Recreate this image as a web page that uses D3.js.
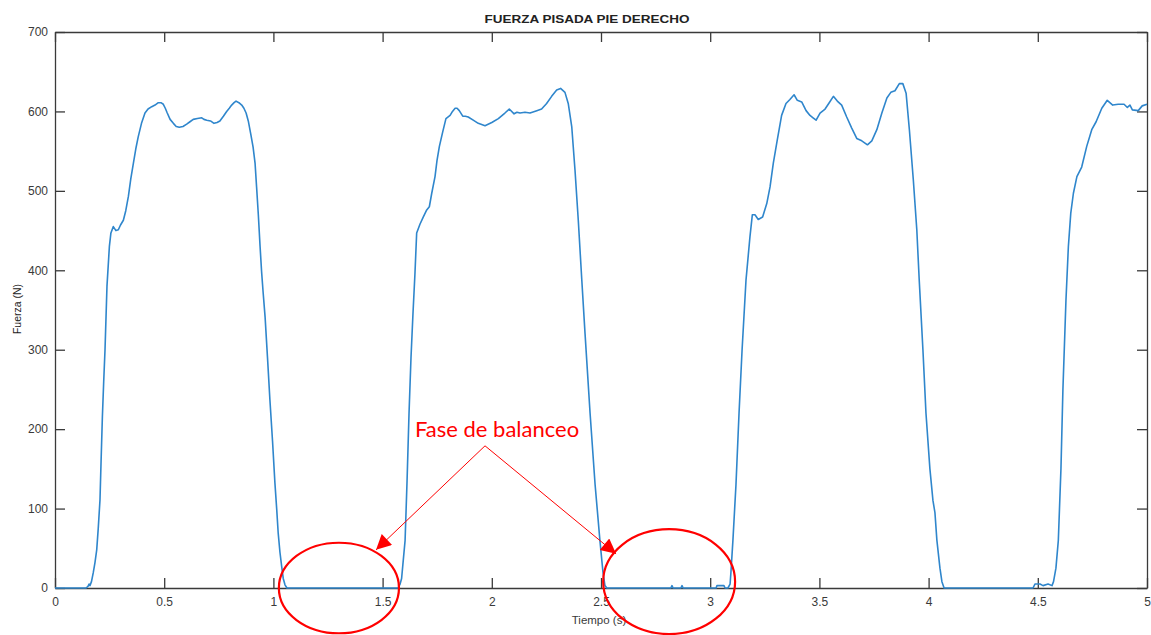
<!DOCTYPE html>
<html>
<head>
<meta charset="utf-8">
<script src="https://cdn.jsdelivr.net/npm/d3@7"></script>
<style>
  html, body { margin: 0; padding: 0; background: #ffffff; }
  svg { display: block; }
</style>
</head>
<body>
<svg id="chart" width="1151" height="635"></svg>
<script>
// Right-foot ground reaction force over time (s -> N)
const tiempo = [
  0.000, 0.142, 0.151, 0.156, 0.160, 0.167, 0.175, 0.183, 0.191, 0.198, 0.206, 0.211, 0.217, 0.223, 0.229, 0.238,
  0.249, 0.256, 0.267, 0.279, 0.290, 0.300, 0.313, 0.324, 0.336, 0.347, 0.359, 0.370, 0.381, 0.396, 0.412, 0.426,
  0.443, 0.458, 0.473, 0.485, 0.496, 0.505, 0.514, 0.527, 0.542, 0.555, 0.569, 0.586, 0.603, 0.618, 0.633, 0.652,
  0.672, 0.682, 0.695, 0.712, 0.728, 0.742, 0.755, 0.771, 0.786, 0.798, 0.809, 0.820, 0.829, 0.842, 0.855, 0.865,
  0.875, 0.885, 0.896, 0.907, 0.916, 0.923, 0.931, 0.939, 0.946, 0.953, 0.962, 0.973, 0.984, 0.996, 1.007, 1.015,
  1.022, 1.030, 1.038, 1.045, 1.053, 1.062,
  1.571, 1.580, 1.587, 1.593, 1.603, 1.612, 1.621, 1.630, 1.639, 1.648, 1.656, 1.671, 1.686, 1.702, 1.714, 1.725,
  1.740, 1.749, 1.760, 1.775, 1.790, 1.809, 1.820, 1.832, 1.841, 1.851, 1.867, 1.879, 1.892, 1.915, 1.938, 1.969,
  2.000, 2.030, 2.060, 2.080, 2.102, 2.115, 2.129, 2.152, 2.175, 2.206, 2.228, 2.251, 2.274, 2.297, 2.315, 2.335,
  2.350, 2.366, 2.381, 2.396, 2.412, 2.427, 2.450, 2.473, 2.495, 2.509, 2.518, 2.527,
  2.820, 2.825, 2.830, 2.866, 2.871, 2.876,
  3.027, 3.031, 3.063, 3.068, 3.081, 3.091, 3.095, 3.104, 3.118, 3.132, 3.146, 3.164, 3.182, 3.193, 3.205, 3.220,
  3.240, 3.259, 3.274, 3.289, 3.307, 3.327, 3.347, 3.365, 3.384, 3.399, 3.419, 3.439, 3.457, 3.471, 3.485, 3.503,
  3.526, 3.545, 3.564, 3.582, 3.602, 3.625, 3.648, 3.671, 3.694, 3.720, 3.740, 3.763, 3.786, 3.809, 3.827, 3.846,
  3.866, 3.882, 3.897, 3.912, 3.930, 3.946, 3.957, 3.974, 3.988, 4.006, 4.020, 4.029, 4.038, 4.052, 4.061, 4.071,
  4.478, 4.487, 4.510, 4.524, 4.547, 4.565,
  4.572, 4.583, 4.594, 4.606, 4.615, 4.629, 4.640, 4.651, 4.663, 4.679, 4.701, 4.724, 4.747, 4.767, 4.793, 4.818,
  4.843, 4.868, 4.895, 4.910, 4.922, 4.933, 4.960, 4.978, 5.000
];
const fuerza = [
  0, 0, 2, 5, 3, 8, 19, 32, 48, 75, 111, 160, 216, 260, 300, 380,
  430, 447, 455, 450, 451, 457, 463, 475, 493, 515, 535, 553, 568, 585, 598, 603,
  606, 608, 611, 611, 609, 604, 598, 590, 585, 581, 580, 581, 584, 587, 590, 591,
  592, 590, 589, 588, 585, 586, 588, 594, 600, 604, 608, 611, 613, 611, 608, 604,
  598, 588, 572, 555, 535, 505, 470, 430, 398, 372, 341, 290, 237, 185, 132, 100,
  69, 45, 27, 12, 4, 0,
  0, 5, 12, 30, 60, 135, 220, 290, 345, 395, 447, 458, 467, 476, 480, 497,
  518, 538, 556, 574, 591, 595, 600, 604, 604, 601, 594, 594, 593, 589, 585, 582,
  586, 591, 598, 603, 597, 599, 598, 599, 598, 601, 603, 610, 619, 627, 629, 624,
  610, 581, 526, 463, 388, 320, 220, 130, 60, 20, 3, 0,
  0, 3, 0, 0, 3, 0,
  0, 3, 3, 0, 0, 5, 20, 60, 130, 220, 300, 388, 442, 470, 470, 464,
  467, 484, 505, 535, 564, 595, 610, 615, 621, 614, 612, 601, 595, 592, 589, 598,
  603, 611, 619, 613, 608, 593, 579, 566, 563, 558, 563, 577, 598, 617, 624, 626,
  635, 635, 623, 577, 514, 451, 388, 300, 220, 150, 110, 95, 60, 25, 8, 0,
  0, 5, 5, 3, 5, 3,
  8, 25, 60, 150, 250, 363, 430, 472, 497, 518, 530, 556, 577, 587, 604, 614,
  608, 609, 609, 605, 608, 602, 601, 607, 609
];

const xTicks = [0, 0.5, 1, 1.5, 2, 2.5, 3, 3.5, 4, 4.5, 5];
const xTickLabels = ["0", "0.5", "1", "1.5", "2", "2.5", "3", "3.5", "4", "4.5", "5"];
const yTicks = [0, 100, 200, 300, 400, 500, 600, 700];
const yTickLabels = ["0", "100", "200", "300", "400", "500", "600", "700"];

const titulo = "FUERZA PISADA PIE DERECHO";
const etiquetaX = "Tiempo (s)";
const etiquetaY = "Fuerza (N)";

// Swing-phase callout: label anchor, arrow targets and circled zones (data units)
const notaTexto = "Fase de balanceo";
const notaPunto = [1.969, 179];
const notaFlechas = [[1.470, 48], [2.569, 43]];
const zonasCentro = [[1.300, 0], [2.812, 8]];
const zonasRadio = [[0.275, 57], [0.302, 66]];

const svg = d3.select("#chart");
const margin = { left: 55, right: 4, top: 32, bottom: 47 };
const W = 1151, H = 635;

const x = d3.scaleLinear().domain([0, 5]).range([margin.left, W - margin.right]);
const y = d3.scaleLinear().domain([0, 700]).range([H - margin.bottom, margin.top]);

const axisColor = "#3a3a3a";
const textColor = "#3a3a3a";
const font = "'Liberation Sans', Arial, sans-serif";

// Box axes with inward ticks on all four sides
const gB = svg.append("g").attr("transform", `translate(0,${y(0)})`)
  .call(d3.axisBottom(x).tickValues(xTicks).tickFormat((d, i) => xTickLabels[i])
    .tickSizeInner(-10).tickSizeOuter(0).tickPadding(9));
const gL = svg.append("g").attr("transform", `translate(${x(0)},0)`)
  .call(d3.axisLeft(y).tickValues(yTicks).tickFormat((d, i) => yTickLabels[i])
    .tickSizeInner(-10).tickSizeOuter(0).tickPadding(7));
const gT = svg.append("g").attr("transform", `translate(0,${y(700)})`)
  .call(d3.axisTop(x).tickValues(xTicks).tickFormat("").tickSizeInner(-10).tickSizeOuter(0));
const gR = svg.append("g").attr("transform", `translate(${x(5)},0)`)
  .call(d3.axisRight(y).tickValues(yTicks).tickFormat("").tickSizeInner(-10).tickSizeOuter(0));

[gB, gL, gT, gR].forEach(g => {
  g.select(".domain").attr("stroke", axisColor).attr("stroke-width", 1.3);
  g.selectAll(".tick line").attr("stroke", axisColor).attr("stroke-width", 1.3);
  g.selectAll(".tick text").attr("fill", textColor)
    .style("font-family", font).style("font-size", "12px");
});

// Title and axis labels
svg.append("text")
  .attr("x", 587).attr("y", 23)
  .attr("text-anchor", "middle")
  .style("font-family", font).style("font-size", "10.5px").style("font-weight", "bold")
  .attr("fill", "#222")
  .attr("textLength", 205).attr("lengthAdjust", "spacingAndGlyphs")
  .text(titulo);

svg.append("text")
  .attr("x", 599).attr("y", 624)
  .attr("text-anchor", "middle")
  .style("font-family", font).style("font-size", "11.5px")
  .attr("fill", textColor)
  .text(etiquetaX);

svg.append("text")
  .attr("transform", `translate(21,309) rotate(-90)`)
  .attr("text-anchor", "middle")
  .style("font-family", font).style("font-size", "10.5px")
  .attr("fill", "#222")
  .text(etiquetaY);

// Force trace
const datos = tiempo.map((t, i) => [t, fuerza[i]]);
svg.append("path")
  .datum(datos)
  .attr("fill", "none")
  .attr("stroke", "#2f86cc")
  .attr("stroke-width", 1.6)
  .attr("stroke-linejoin", "round")
  .attr("d", d3.line().x(d => x(d[0])).y(d => y(d[1])));

// Callout: label, arrows and circled swing zones
const rojo = "#ff0000";
const defs = svg.append("defs");
defs.append("marker")
  .attr("id", "punta")
  .attr("viewBox", "0 0 10 10")
  .attr("refX", 10).attr("refY", 5)
  .attr("markerWidth", 18).attr("markerHeight", 15)
  .attr("markerUnits", "userSpaceOnUse")
  .attr("orient", "auto")
  .append("path").attr("d", "M0,0 L10,5 L0,10 Z").attr("fill", rojo);

notaFlechas.forEach(p => {
  svg.append("line")
    .attr("x1", x(notaPunto[0])).attr("y1", y(notaPunto[1]))
    .attr("x2", x(p[0])).attr("y2", y(p[1]))
    .attr("stroke", rojo).attr("stroke-width", 1)
    .attr("marker-end", "url(#punta)");
});

zonasCentro.forEach((c, i) => {
  const cx = x(c[0]), cy = y(c[1]);
  svg.append("ellipse")
    .attr("cx", cx).attr("cy", cy)
    .attr("rx", x(zonasRadio[i][0]) - x(0))
    .attr("ry", y(0) - y(zonasRadio[i][1]))
    .attr("fill", "none").attr("stroke", rojo).attr("stroke-width", 2.2);
});

svg.append("text")
  .attr("x", x(notaPunto[0]) + 12).attr("y", 437)
  .attr("text-anchor", "middle")
  .style("font-family", "Lato, 'Open Sans', sans-serif").style("font-size", "22px")
  .attr("fill", rojo)
  .text(notaTexto);
</script>
</body>
</html>
